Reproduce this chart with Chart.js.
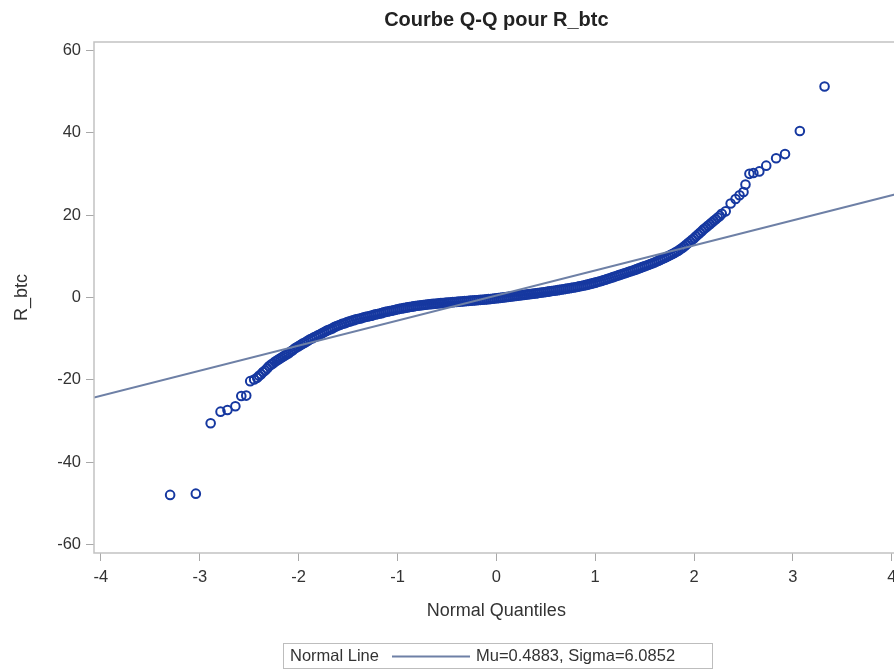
<!DOCTYPE html>
<html>
<head>
<meta charset="utf-8">
<script src="https://cdn.jsdelivr.net/npm/chart.js@4.4.1/dist/chart.umd.min.js"></script>
<style>
  html, body { margin: 0; padding: 0; background: #ffffff; overflow: hidden; }
  #wrap { position: relative; width: 905px; height: 671px; }
</style>
</head>
<body>
<div id="wrap"><canvas id="qq" width="905" height="671"></canvas></div>
<script>
// Normal line parameters (estimated from the sample)
const MU = 0.4883;
const SIGMA = 6.0852;

// Axis ticks
const xTicks = [-4, -3, -2, -1, 0, 1, 2, 3, 4];
const yTicks = [-60, -40, -20, 0, 20, 40, 60];
const xRange = [-4.07, 4.07];
const yRange = [-62, 62];

// Lower tail: normal quantile vs ordered R_btc
const lowTailX = [-3.30, -3.04, -2.89, -2.79, -2.72, -2.64, -2.58, -2.53, -2.49, -2.45, -2.42];
const lowTailY = [-47.9, -47.6, -30.5, -27.7, -27.3, -26.4, -23.9, -23.8, -20.3, -19.9, -19.5];

// Body of the distribution
const bodyX = [
  -2.40,-2.38,-2.36,-2.34,-2.32,-2.30,-2.28,-2.26,-2.24,-2.22,-2.20,-2.18,-2.16,-2.14,-2.12,-2.10,
  -2.08,-2.06,-2.04,-2.02,-2.00,-1.98,-1.96,-1.94,-1.92,-1.90,-1.88,-1.86,-1.84,-1.82,-1.80,-1.78,
  -1.76,-1.74,-1.72,-1.70,-1.68,-1.66,-1.64,-1.62,-1.60,-1.58,-1.56,-1.54,-1.52,-1.50,-1.48,-1.46,
  -1.44,-1.42,-1.40,-1.38,-1.36,-1.34,-1.32,-1.30,-1.28,-1.26,-1.24,-1.22,-1.20,-1.18,-1.16,-1.14,
  -1.12,-1.10,-1.08,-1.06,-1.04,-1.02,-1.00,-0.98,-0.96,-0.94,-0.92,-0.90,-0.88,-0.86,-0.84,-0.82,
  -0.80,-0.78,-0.76,-0.74,-0.72,-0.70,-0.68,-0.66,-0.64,-0.62,-0.60,-0.58,-0.56,-0.54,-0.52,-0.50,
  -0.48,-0.46,-0.44,-0.42,-0.40,-0.38,-0.36,-0.34,-0.32,-0.30,-0.28,-0.26,-0.24,-0.22,-0.20,-0.18,
  -0.16,-0.14,-0.12,-0.10,-0.08,-0.06,-0.04,-0.02,0.00,0.02,0.04,0.06,0.08,0.10,0.12,0.14,
  0.16,0.18,0.20,0.22,0.24,0.26,0.28,0.30,0.32,0.34,0.36,0.38,0.40,0.42,0.44,0.46,
  0.48,0.50,0.52,0.54,0.56,0.58,0.60,0.62,0.64,0.66,0.68,0.70,0.72,0.74,0.76,0.78,
  0.80,0.82,0.84,0.86,0.88,0.90,0.92,0.94,0.96,0.98,1.00,1.02,1.04,1.06,1.08,1.10,
  1.12,1.14,1.16,1.18,1.20,1.22,1.24,1.26,1.28,1.30,1.32,1.34,1.36,1.38,1.40,1.42,
  1.44,1.46,1.48,1.50,1.52,1.54,1.56,1.58,1.60,1.62,1.64,1.66,1.68,1.70,1.72,1.74,
  1.76,1.78,1.80,1.82,1.84,1.86,1.88,1.90,1.92,1.94,1.96,1.98,2.00,2.02,2.04,2.06,
  2.08,2.10,2.12,2.14,2.16,2.18,2.20,2.22,2.24,2.26,2.28
];
const bodyY = [
  -19.0,-18.6,-18.1,-17.7,-17.2,-16.7,-16.3,-16.0,-15.6,-15.3,-15.0,-14.7,-14.4,-14.1,-13.8,-13.5,
  -13.1,-12.8,-12.4,-12.1,-11.8,-11.5,-11.2,-11.0,-10.7,-10.4,-10.1,-9.9,-9.6,-9.4,-9.1,-8.9,
  -8.6,-8.4,-8.1,-7.9,-7.7,-7.5,-7.2,-7.0,-6.8,-6.6,-6.4,-6.3,-6.1,-5.9,-5.8,-5.6,
  -5.5,-5.3,-5.2,-5.1,-5.0,-4.8,-4.7,-4.6,-4.5,-4.4,-4.2,-4.1,-4.0,-3.9,-3.8,-3.6,
  -3.5,-3.4,-3.3,-3.2,-3.1,-2.96,-2.85,-2.76,-2.67,-2.58,-2.49,-2.40,-2.32,-2.24,-2.16,-2.08,
  -2.00,-1.94,-1.88,-1.82,-1.76,-1.70,-1.65,-1.60,-1.55,-1.50,-1.45,-1.41,-1.37,-1.33,-1.29,-1.25,
  -1.21,-1.17,-1.13,-1.09,-1.05,-1.01,-0.97,-0.93,-0.89,-0.85,-0.81,-0.77,-0.73,-0.69,-0.65,-0.61,
  -0.57,-0.53,-0.49,-0.45,-0.40,-0.35,-0.30,-0.25,-0.20,-0.14,-0.08,-0.02,0.04,0.10,0.16,0.22,
  0.28,0.34,0.40,0.46,0.52,0.58,0.64,0.70,0.76,0.82,0.88,0.94,1.00,1.07,1.14,1.21,
  1.28,1.35,1.42,1.49,1.56,1.63,1.70,1.78,1.86,1.94,2.02,2.10,2.18,2.26,2.34,2.42,
  2.50,2.60,2.70,2.80,2.90,3.00,3.12,3.24,3.36,3.48,3.60,3.74,3.88,4.02,4.16,4.30,
  4.46,4.62,4.78,4.94,5.10,5.26,5.42,5.58,5.74,5.90,6.06,6.22,6.38,6.54,6.70,6.88,
  7.06,7.24,7.42,7.60,7.78,7.96,8.14,8.32,8.50,8.72,8.94,9.16,9.38,9.60,9.84,10.08,
  10.32,10.56,10.80,11.08,11.36,11.68,12.04,12.40,12.80,13.20,13.60,14.00,14.40,14.84,15.28,15.72,
  16.16,16.60,17.00,17.40,17.80,18.20,18.60,19.00,19.40,19.80,20.30
];

// Upper tail
const highTailX = [2.32, 2.37, 2.42, 2.46, 2.50, 2.52, 2.56, 2.60, 2.66, 2.73, 2.83, 2.92, 3.07, 3.32];
const highTailY = [20.9, 22.8, 23.9, 24.8, 25.6, 27.4, 30.0, 30.2, 30.6, 32.0, 33.8, 34.8, 40.4, 51.2];

const allX = lowTailX.concat(bodyX, highTailX);
const allY = lowTailY.concat(bodyY, highTailY);
const qqPoints = allX.map((x, i) => ({ x: x, y: allY[i] }));
const normalLine = xRange.map(x => ({ x: x, y: MU + SIGMA * x }));

const FONT = "'Liberation Sans', Arial, Helvetica, sans-serif";
const TEXT = '#333333';
const LINE_COLOR = '#6e80a6';
const POINT_COLOR = '#1638a0';

// Frame, titles and the legend box
const decorations = {
  id: 'decorations',
  afterDraw(chart) {
    const { ctx, chartArea: a } = chart;
    ctx.save();
    ctx.strokeStyle = '#c2c2c2';
    ctx.lineWidth = 1.5;
    ctx.strokeRect(a.left, a.top, a.right - a.left, a.bottom - a.top);

    ctx.fillStyle = '#222222';
    ctx.textAlign = 'center';
    ctx.textBaseline = 'middle';
    ctx.font = `bold 20px ${FONT}`;
    ctx.fillText('Courbe Q-Q pour R_btc', (a.left + a.right) / 2, 20);

    ctx.fillStyle = TEXT;
    ctx.font = `18px ${FONT}`;
    ctx.fillText('Normal Quantiles', (a.left + a.right) / 2, 611);
    ctx.save();
    ctx.translate(22, (a.top + a.bottom) / 2);
    ctx.rotate(-Math.PI / 2);
    ctx.fillText('R_btc', 0, 0);
    ctx.restore();

    // legend
    const bx = 283.5, by = 643.5, bw = 429, bh = 25;
    ctx.strokeStyle = '#bdbdbd';
    ctx.lineWidth = 1;
    ctx.strokeRect(bx, by, bw, bh);
    ctx.font = `16.5px ${FONT}`;
    ctx.textAlign = 'left';
    ctx.fillStyle = TEXT;
    const cy = by + bh / 2 + 0.5;
    ctx.fillText('Normal Line', 290, cy);
    ctx.strokeStyle = LINE_COLOR;
    ctx.lineWidth = 2;
    ctx.beginPath();
    ctx.moveTo(392, cy);
    ctx.lineTo(470, cy);
    ctx.stroke();
    ctx.fillText(`Mu=${MU.toFixed(4)}, Sigma=${SIGMA.toFixed(4)}`, 476, cy);
    ctx.restore();
  }
};

new Chart(document.getElementById('qq'), {
  type: 'scatter',
  data: {
    datasets: [
      {
        type: 'line',
        label: 'Normal Line',
        data: normalLine,
        borderColor: LINE_COLOR,
        borderWidth: 2,
        pointRadius: 0,
        fill: false,
        order: 0
      },
      {
        label: 'R_btc',
        data: qqPoints,
        pointStyle: 'circle',
        pointRadius: 4.3,
        pointBorderWidth: 2,
        borderColor: POINT_COLOR,
        backgroundColor: 'rgba(0,0,0,0)',
        order: 1
      }
    ]
  },
  options: {
    responsive: false,
    animation: false,
    events: [],
    layout: { padding: { top: 42, right: 6, left: 0, bottom: 0 } },
    plugins: {
      legend: { display: false },
      title: { display: false },
      tooltip: { enabled: false }
    },
    scales: {
      x: {
        type: 'linear',
        min: xRange[0],
        max: xRange[1],
        afterBuildTicks(scale) { scale.ticks = xTicks.map(v => ({ value: v })); },
        afterFit(scale) { scale.height = 118; },
        grid: { drawOnChartArea: false, drawTicks: true, tickLength: 8, color: '#a8a8a8', lineWidth: 1 },
        border: { display: false },
        ticks: { color: TEXT, font: { family: FONT, size: 16.5 }, padding: 7, maxRotation: 0 }
      },
      y: {
        type: 'linear',
        min: yRange[0],
        max: yRange[1],
        afterBuildTicks(scale) { scale.ticks = yTicks.map(v => ({ value: v })); },
        afterFit(scale) { scale.width = 94; },
        grid: { drawOnChartArea: false, drawTicks: true, tickLength: 8, color: '#a8a8a8', lineWidth: 1 },
        border: { display: false },
        ticks: { color: TEXT, font: { family: FONT, size: 16.5 }, padding: 5 }
      }
    }
  },
  plugins: [decorations]
});
</script>
</body>
</html>
